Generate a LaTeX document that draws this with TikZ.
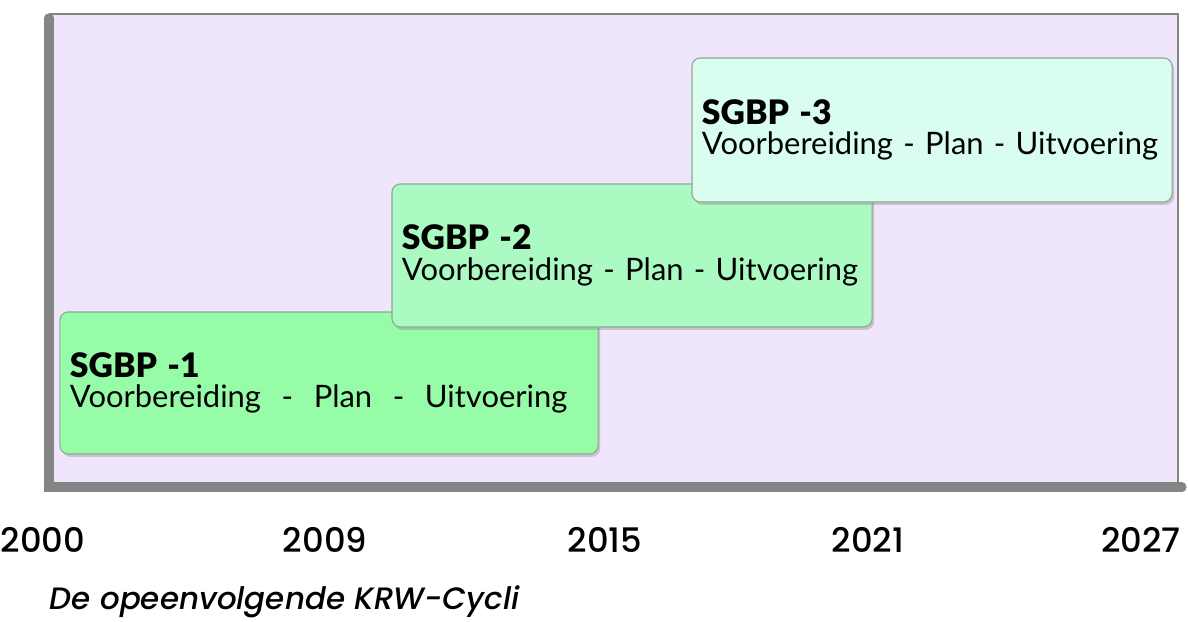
\documentclass[tikz,border=0pt]{standalone}
\usepackage{fontspec}
\usepackage{xcolor}
\usepackage{tikz}
\usetikzlibrary{shapes,shadows,positioning}
\newfontfamily\boxfont[BoldFont={Lato Black}]{Lato}
\newfontfamily\yearfont[ItalicFont={Poppins Medium Italic}]{Poppins Medium}
\newcommand{\cyctitle}[1]{{\fontsize{24}{21}\selectfont\textbf{#1}}}
\definecolor{panelbg}{HTML}{EFE6FB}
\definecolor{axisgray}{HTML}{858585}
\definecolor{cycleA}{HTML}{96FCA8}
\definecolor{cycleB}{HTML}{AAFAC2}
\definecolor{cycleC}{HTML}{D9FDEE}
\definecolor{cycleline}{HTML}{8FA896}

\begin{document}
\begin{tikzpicture}[x=0.025cm,y=-0.025cm]
						\tikzstyle{cycbox}=[rectangle, rounded corners=6pt, draw=cycleline, line width=0.8pt, align=left, inner sep=0pt, font=\boxfont\fontsize{22}{21.5}\selectfont, drop shadow={shadow xshift=1.5pt, shadow yshift=-2pt, opacity=0.35}]
						\tikzstyle{year}=[font=\yearfont\fontsize{24}{28}\selectfont]
						\useasboundingbox (0,0) rectangle (1188,622);
						% panel with thick axes
						\fill[panelbg] (45,14) rectangle (1178,488);
						\draw[axisgray, line width=0.8pt] (49,14) -- (1178,14) -- (1178,488);
						\draw[axisgray, line width=6.5pt, line cap=round] (49,18) -- (49,487) -- (1182,487);
						% cycles
						\node[cycbox, fill=cycleA, minimum width=13.45cm, minimum height=3.55cm, text width=12.95cm] (sgbp1) at (329,383)
							{\cyctitle{SGBP -1}\\Voorbereiding\ \ -\ \ Plan\ \ -\ \ Uitvoering};
						\node[cycbox, fill=cycleB, minimum width=12cm, minimum height=3.575cm, text width=11.5cm] (sgbp2) at (632,255.5)
							{\cyctitle{SGBP -2}\\Voorbereiding - Plan - Uitvoering};
						\node[cycbox, fill=cycleC, minimum width=12cm, minimum height=3.6cm, text width=11.5cm] (sgbp3) at (932,130)
							{\cyctitle{SGBP -3}\\Voorbereiding - Plan - Uitvoering};
						% years
						\node[year] (y2000) at (43,540) {2000};
						\node[year] (y2009) at (325,540) {2009};
						\node[year] (y2015) at (605,540) {2015};
						\node[year] (y2021) at (868,540) {2021};
						\node[year] (y2027) at (1141,540) {2027};
						\node[year, anchor=west, font=\yearfont\itshape\fontsize{22}{26}\selectfont] (caption) at (45,602) {De opeenvolgende KRW-Cycli};
					\end{tikzpicture}
\end{document}
